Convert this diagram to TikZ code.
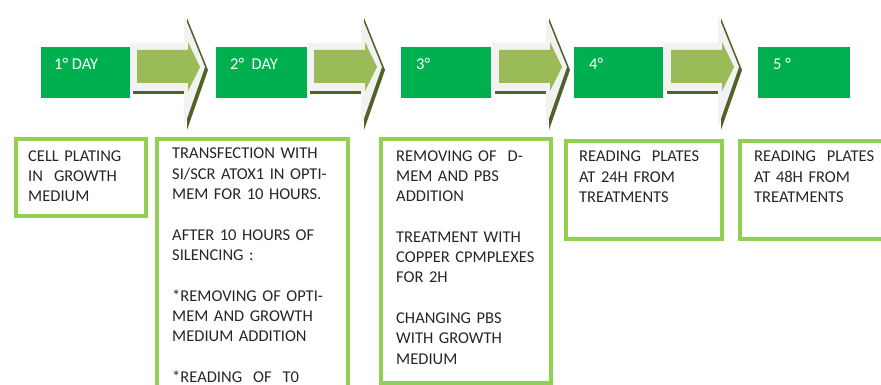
\documentclass[tikz,border=0pt]{standalone}
\usepackage{fontspec}
\setmainfont{Carlito}
\usetikzlibrary{positioning}
\definecolor{daygreen}{HTML}{00B050}
\definecolor{arrowfillgreen}{HTML}{9BBB59}
\definecolor{rimgray}{HTML}{F2F2F2}
\definecolor{shadegreen}{HTML}{4F6228}
\definecolor{framegreen}{HTML}{92D050}
\definecolor{steptextgray}{HTML}{262626}
\tikzset{
	daybox/.style={
		rectangle,
		fill=daygreen,
		minimum width=89pt,
		minimum height=51pt,
		inner sep=0pt,
		anchor=north west},
	daylabel/.style={
		text=white,
		anchor=base west,
		inner sep=0pt,
		font=\fontsize{16.5}{20}\selectfont},
	stepbox/.style={
		rectangle,
		draw=framegreen,
		line width=4pt,
		inner sep=0pt,
		anchor=north west},
	steptext/.style={
		text=steptextgray,
		anchor=base west,
		inner sep=0pt,
		align=left,
		text width=170pt,
		font=\fontsize{16.5}{20.3}\selectfont},
	arrowshade/.style={fill=shadegreen},
	arrowrim/.style={fill=rimgray},
	arrowbody/.style={fill=arrowfillgreen}
}
\begin{document}
\begin{tikzpicture}[
			x=1pt, y=-1pt,
			]
    \useasboundingbox (0,0) rectangle (881,385);
    \clip (0,0) rectangle (881,385);

    % day boxes
    \node[daybox] (D1) at (41,47) {};
    \node[daybox, minimum width=91pt] (D2) at (216,47) {};
    \node[daybox, minimum width=90pt] (D3) at (401,47) {};
    \node[daybox] (D4) at (574,47) {};
    \node[daybox, minimum width=92pt] (D5) at (758,47) {};

    \node[daylabel] (L1) at ([shift={(13,23)}]D1.north west) {1° DAY};
    \node[daylabel] (L2) at ([shift={(14,23)}]D2.north west) {2°\ \ DAY};
    \node[daylabel] (L3) at ([shift={(15,23)}]D3.north west) {3°};
    \node[daylabel] (L4) at ([shift={(15,23)}]D4.north west) {4°};
    \node[daylabel] (L5) at ([shift={(15,23)}]D5.north west) {5 °};

    % arrows between the days
    \foreach \ax in {130,307,492,664} {
      \path[arrowshade, shift={(\ax+3,3)}] (0,43) -- (54,43) -- (54,15) -- (75,67) -- (54,127) -- (54,91) -- (0,91) -- cycle;
      \path[arrowrim, shift={(\ax,0)}] (0,43) -- (54,43) -- (54,15) -- (75,67) -- (54,127) -- (54,91) -- (0,91) -- cycle;
      \path[arrowbody, shift={(\ax,0)}] (7,50) -- (58,50) -- (58,42) -- (70,67) -- (58,91) -- (58,83) -- (7,83) -- cycle;
    }

    % step boxes
    \node[stepbox, minimum width=130pt, minimum height=77pt] (S1) at (14,137) {};
    \node[stepbox, minimum width=191pt, minimum height=300pt] (S2) at (155,137) {};
    \node[stepbox, minimum width=170pt, minimum height=244pt] (S3) at (379,137) {};
    \node[stepbox, minimum width=156pt, minimum height=98pt] (S4) at (564,139) {};
    \node[stepbox, minimum width=200pt, minimum height=98pt] (S5) at (738,139) {};

    \node[steptext] (T1) at ([shift={(14,24)}]S1.north west)
      {CELL PLATING\\ IN\ \ GROWTH\\ MEDIUM};
    \node[steptext] (T2) at ([shift={(17,22)}]S2.north west)
      {TRANSFECTION WITH\\ SI/SCR ATOX1 IN OPTI-\\ MEM FOR 10 HOURS.\\[20.3pt]
       AFTER 10 HOURS OF\\ SILENCING :\\[20.3pt]
       *REMOVING OF OPTI-\\ MEM AND GROWTH\\ MEDIUM ADDITION\\[20.3pt]
       *READING\ \ OF\ \ T0};
    \node[steptext] (T3) at ([shift={(17,24)}]S3.north west)
      {REMOVING OF\ \ D-\\ MEM AND PBS\\ ADDITION\\[20.3pt]
       TREATMENT WITH\\ COPPER CPMPLEXES\\ FOR 2H\\[20.3pt]
       CHANGING PBS\\ WITH GROWTH\\ MEDIUM};
    \node[steptext] (T4) at ([shift={(15,23)}]S4.north west)
      {READING\ \ PLATES\\ AT 24H FROM\\ TREATMENTS};
    \node[steptext] (T5) at ([shift={(16,23)}]S5.north west)
      {READING\ \ PLATES\\ AT 48H FROM\\ TREATMENTS};
		\end{tikzpicture}
\end{document}
